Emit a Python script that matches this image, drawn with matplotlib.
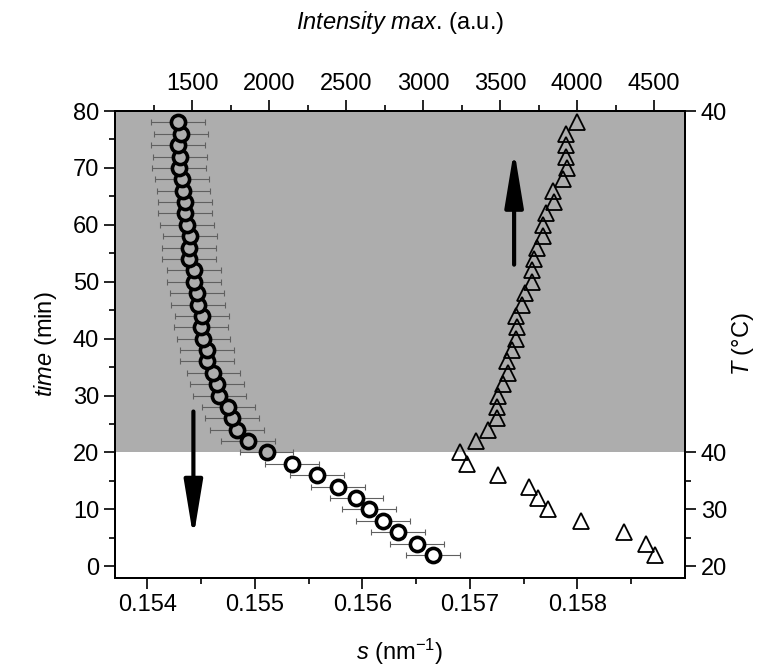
import matplotlib
matplotlib.use('Agg')
import matplotlib.pyplot as plt
from matplotlib.ticker import MultipleLocator, FixedLocator
import numpy as np

plt.rcParams['font.family'] = ['Liberation Sans', 'DejaVu Sans']
plt.rcParams['mathtext.fontset'] = 'custom'
plt.rcParams['mathtext.rm'] = 'Liberation Sans'
plt.rcParams['mathtext.it'] = 'Liberation Sans:italic'

# circles: peak position s vs time
time_s = [2, 4, 6, 8, 10, 12, 14, 16, 18, 20, 22, 24, 26, 28, 30, 32, 34, 36, 38, 40,
          42, 44, 46, 48, 50, 52, 54, 56, 58, 60, 62, 64, 66, 68, 70, 72, 74, 76, 78]
s_peak = [0.156660, 0.156511, 0.156330, 0.156190, 0.156060, 0.155945, 0.155771, 0.155579,
          0.155349, 0.155109, 0.154936, 0.154833, 0.154787, 0.154755, 0.154671, 0.154652,
          0.154615, 0.154559, 0.154554, 0.154522, 0.154500, 0.154507, 0.154475, 0.154466,
          0.154438, 0.154438, 0.154391, 0.154391, 0.154398, 0.154373, 0.154354, 0.154349,
          0.154336, 0.154321, 0.154298, 0.154305, 0.154283, 0.154311, 0.154283]
s_err = 0.00025

# triangles: intensity max vs time
time_i = time_s
intensity = [4506, 4447, 4304, 4025, 3811, 3746, 3687, 3488, 3283, 3240, 3344, 3423,
             3478, 3482, 3484, 3521, 3549, 3547, 3575, 3603, 3611, 3603, 3644, 3661,
             3708, 3705, 3720, 3741, 3780, 3780, 3796, 3849, 3845, 3910, 3932, 3927,
             3927, 3927, 4000]

# right axis: temperature ramp labels
t_ticks = [0, 10, 20, 80]
t_labels = ['20', '30', '40', '40']

gray = '#adadad'
fs = 17

fig = plt.figure(figsize=(7.58, 6.71), dpi=100)
ax = fig.add_axes([115/758, 1-577.7/671, 570/758, 466.7/671])

ax.axhspan(20, 80, color=gray, lw=0, zorder=0)

time_s = np.array(time_s)
s_peak = np.array(s_peak)
ax.errorbar(s_peak, time_s, xerr=s_err, fmt='none', ecolor='#606060', elinewidth=0.8,
            capsize=2, capthick=0.8, zorder=2)
in_gray = time_s >= 20
ax.plot(s_peak[in_gray], time_s[in_gray], 'o', ms=10.2, mfc=gray, mec='k', mew=2.6, zorder=3)
ax.plot(s_peak[~in_gray], time_s[~in_gray], 'o', ms=10.2, mfc='white', mec='k', mew=2.6, zorder=3)

# arrows
arrow_style = dict(arrowstyle='-|>,head_length=1.7,head_width=0.28', lw=3,
                   color='k', mutation_scale=20, shrinkA=0, shrinkB=0)
ax.annotate('', xy=(0.154429, 5.0), xytext=(0.154429, 27.2), arrowprops=arrow_style, zorder=4)
ax.annotate('', xy=(0.157411, 73.2), xytext=(0.157411, 53), arrowprops=arrow_style, zorder=4)

ax.set_xlim(0.1537, 0.1590)
ax.set_ylim(-2, 80)
ax.xaxis.set_major_locator(FixedLocator([0.154, 0.155, 0.156, 0.157, 0.158]))
ax.xaxis.set_minor_locator(FixedLocator([0.1545, 0.1555, 0.1565, 0.1575, 0.1585]))
ax.set_xticklabels(['0.154', '0.155', '0.156', '0.157', '0.158'])
ax.yaxis.set_major_locator(MultipleLocator(10))
ax.yaxis.set_minor_locator(MultipleLocator(5))
ax.set_xlabel(r'$s$ (nm$^{-1}$)', fontsize=fs, labelpad=15)
ax.set_ylabel(r'$time$ (min)', fontsize=fs, labelpad=10)

ax_top = ax.twiny()
ax_top.plot(intensity, time_i, '^', ms=11, mfc='none', mec='k', mew=1.3, zorder=3)
ax_top.set_xlim(1000, 4700)
ax_top.xaxis.set_major_locator(FixedLocator(np.arange(1500, 4501, 500)))
ax_top.xaxis.set_minor_locator(FixedLocator(np.arange(1250, 4500, 500)))
ax_top.set_xlabel(r'$Intensity$ $max$. (a.u.)', fontsize=fs, labelpad=32)

ax_right = ax.twinx()
ax_right.set_ylim(-2, 80)
ax_right.yaxis.set_major_locator(FixedLocator(t_ticks))
ax_right.yaxis.set_minor_locator(FixedLocator([5, 15]))
ax_right.set_yticklabels(t_labels)
ax_right.set_ylabel(r'$T$ (°C)', fontsize=fs, labelpad=2)

for a in (ax, ax_top, ax_right):
    a.tick_params(which='major', direction='out', length=8, width=1.2, labelsize=fs)
    a.tick_params(which='minor', direction='out', length=4.5, width=1.2)
    for sp in a.spines.values():
        sp.set_linewidth(1.3)
ax.tick_params(axis='x', which='both', top=False)
ax.tick_params(axis='y', which='both', right=False)
ax_top.tick_params(axis='x', which='both', bottom=False)
ax_right.tick_params(axis='y', which='both', left=False)

fig.savefig('out.png', dpi=100)
